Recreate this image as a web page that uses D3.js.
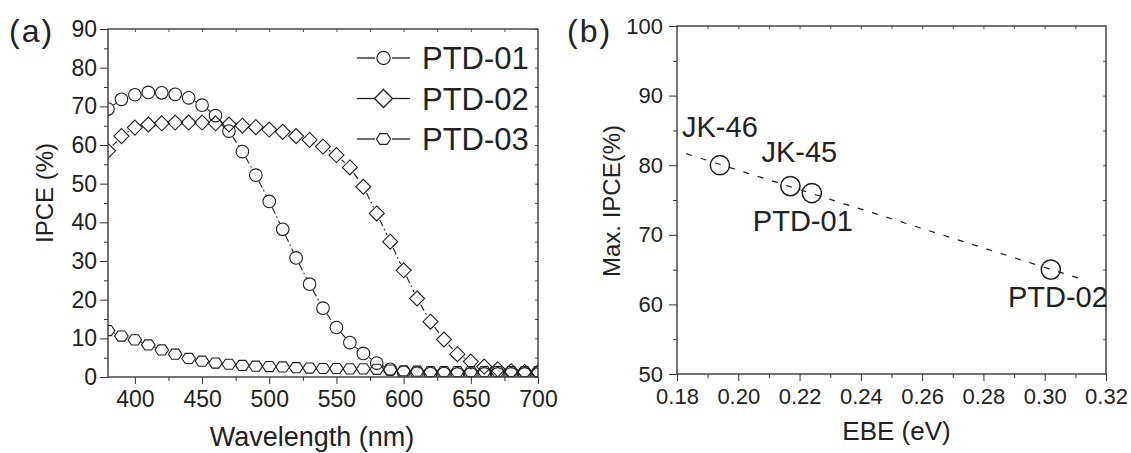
<!DOCTYPE html>
<html>
<head>
<meta charset="utf-8">
<script src="https://cdn.jsdelivr.net/npm/d3@7"></script>
<style>
  body { margin: 0; background: #fff; }
  text { font-family: "Liberation Sans", Arial, Helvetica, sans-serif; fill: #222; }
</style>
</head>
<body>
<div id="chart"></div>
<script>
// ---- data, panel (a) ----
var wavelengths = [380, 390, 400, 410, 420, 430, 440, 450, 460, 470, 480, 490, 500, 510, 520, 530, 540,
  550, 560, 570, 580, 590, 600, 610, 620, 630, 640, 650, 660, 670, 680, 690, 700];
var ptd01 = [69.3, 71.8, 73.0, 73.6, 73.5, 73.1, 72.2, 70.3, 67.6, 63.6, 58.3, 52.2, 45.4, 38.2, 30.8, 24.0, 17.8,
  12.8, 8.9, 6.1, 3.6, 2.0, 1.2, 1.0, 0.9, 0.9, 0.8, 0.8, 0.8, 0.8, 0.8, 0.8, 0.8];
var ptd02 = [58.5, 62.3, 64.5, 65.3, 65.6, 65.8, 65.8, 65.8, 65.6, 65.3, 65.0, 64.6, 64.0, 63.4, 62.3, 61.3, 59.6,
  57.4, 54.2, 49.2, 42.3, 35.0, 27.6, 20.3, 14.3, 9.7, 5.9, 4.0, 2.7, 2.0, 1.5, 1.3, 1.2];
var ptd03 = [12.0, 10.6, 9.6, 8.3, 7.0, 5.9, 4.8, 4.1, 3.6, 3.3, 3.0, 2.8, 2.7, 2.6, 2.4, 2.3, 2.2,
  2.2, 2.1, 2.1, 2.0, 1.8, 1.6, 1.5, 1.4, 1.4, 1.4, 1.4, 1.4, 1.4, 1.4, 1.4, 1.4];
var seriesNames = ["PTD-01", "PTD-02", "PTD-03"];

var xTicksA = [400, 450, 500, 550, 600, 650, 700];
var xMinorA = [425, 475, 525, 575, 625, 675];
var xTopA = [400, 425, 450, 475, 500, 525, 550, 575, 600, 625, 650, 675];
var yTicksA = [0, 10, 20, 30, 40, 50, 60, 70, 80, 90];
var yMinorA = [5, 15, 25, 35, 45, 55, 65, 75, 85];

// ---- data, panel (b) ----
var compounds = ["JK-46", "JK-45", "PTD-01", "PTD-02"];
var ebe = [0.194, 0.217, 0.224, 0.302];
var maxIpce = [80, 77, 76, 65];
var fitRange = [0.183, 0.313];

var xTicksB = [0.18, 0.20, 0.22, 0.24, 0.26, 0.28, 0.30, 0.32];
var xMinorB = [0.19, 0.21, 0.23, 0.25, 0.27, 0.29, 0.31];
var yTicksB = [50, 60, 70, 80, 90, 100];
var yMinorB = [55, 65, 75, 85, 95];

var ink = "#1e1e1e";

var svg = d3.select("#chart")
  .append("svg")
  .attr("width", 1131)
  .attr("height", 453);

svg.append("rect").attr("width", 1131).attr("height", 453).attr("fill", "#fff");

// draws the box, outward major/minor ticks on bottom+left, small inward ticks on top+right
function drawFrame(x, y, opts) {
  var x0 = x.range()[0], x1 = x.range()[1];
  var y0 = y.range()[0], y1 = y.range()[1];

  var bottom = svg.append("g")
    .attr("transform", `translate(0, ${y0})`)
    .call(d3.axisBottom(x).tickValues(opts.xTicks).tickSize(7).tickPadding(7).tickFormat(opts.xFormat));
  bottom.attr("font-size", opts.fontSize).attr("color", "#333");

  svg.append("g")
    .attr("transform", `translate(0, ${y0})`)
    .attr("color", "#333")
    .call(d3.axisBottom(x).tickValues(opts.xMinor).tickSize(4).tickFormat(""));

  var left = svg.append("g")
    .attr("transform", `translate(${x0}, 0)`)
    .call(d3.axisLeft(y).tickValues(opts.yTicks).tickSize(8).tickPadding(opts.yPad).tickFormat(d3.format("d")));
  left.attr("font-size", opts.fontSize).attr("color", "#333");

  svg.append("g")
    .attr("transform", `translate(${x0}, 0)`)
    .attr("color", "#333")
    .call(d3.axisLeft(y).tickValues(opts.yMinor).tickSize(4).tickFormat(""));

  svg.append("g")
    .attr("transform", `translate(0, ${y1})`)
    .attr("color", "#555")
    .call(d3.axisTop(x).tickValues(opts.xTop).tickSizeInner(-3).tickSizeOuter(0).tickFormat(""));

  svg.append("g")
    .attr("transform", `translate(${x1}, 0)`)
    .attr("color", "#555")
    .call(d3.axisRight(y).tickValues(opts.yRight).tickSizeInner(-3).tickSizeOuter(0).tickFormat(""));

  svg.selectAll(".domain").remove();
  svg.selectAll(".tick text").attr("fill", "#222");

  svg.append("rect")
    .attr("x", x0).attr("y", y1)
    .attr("width", x1 - x0).attr("height", y0 - y1)
    .attr("fill", "none")
    .attr("stroke", "#3a3a3a")
    .attr("stroke-width", 1.4);
}

// marker shapes
function markerPath(kind) {
  if (kind === "diamond") {
    var h = 7.5;
    return `M0,${-h}L${h},0L0,${h}L${-h},0Z`;
  }
  if (kind === "hexagon") {
    var R = 6.8, s = Math.sqrt(3) / 2 * R * 0.86;
    return `M${-R},0L${-R / 2},${-s}L${R / 2},${-s}L${R},0L${R / 2},${s}L${-R / 2},${s}Z`;
  }
  return d3.symbol().type(d3.symbolCircle).size(Math.PI * 6.3 * 6.3)();
}

// ================= panel (a) =================
var xA = d3.scaleLinear().domain([380, 700]).range([108, 538]);
var yA = d3.scaleLinear().domain([0, 90]).range([377, 29]);

svg.append("clipPath").attr("id", "clipA")
  .append("rect").attr("x", 108).attr("y", 29).attr("width", 430).attr("height", 348);

var plotA = svg.append("g").attr("clip-path", "url(#clipA)");

var seriesA = [
  { name: seriesNames[0], values: ptd01, marker: "circle", gap: 6.8 },
  { name: seriesNames[1], values: ptd02, marker: "diamond", gap: 7.0 },
  { name: seriesNames[2], values: ptd03, marker: "hexagon", gap: 6.6 }
];

seriesA.forEach(function(s) {
  var pts = wavelengths.map(function(w, i) { return [xA(w), yA(s.values[i])]; });
  // connecting segments, broken where they meet a marker
  for (var i = 0; i < pts.length - 1; i++) {
    var p = pts[i], q = pts[i + 1];
    var dx = q[0] - p[0], dy = q[1] - p[1];
    var d = Math.sqrt(dx * dx + dy * dy);
    if (d <= 2 * s.gap + 1) continue;
    var ux = dx / d, uy = dy / d;
    plotA.append("line")
      .attr("x1", p[0] + ux * s.gap).attr("y1", p[1] + uy * s.gap)
      .attr("x2", q[0] - ux * s.gap).attr("y2", q[1] - uy * s.gap)
      .attr("stroke", ink)
      .attr("stroke-width", 1.1)
      .attr("stroke-dasharray", "7,3,1.5,3");
  }
  plotA.selectAll(null)
    .data(pts)
    .enter()
    .append("path")
    .attr("d", markerPath(s.marker))
    .attr("transform", d => `translate(${d[0]}, ${d[1]})`)
    .attr("fill", "none")
    .attr("stroke", ink)
    .attr("stroke-width", 1.1);
});

drawFrame(xA, yA, {
  xTicks: xTicksA, xMinor: xMinorA, xTop: xTopA,
  yTicks: yTicksA, yMinor: yMinorA, yRight: yMinorA.concat(yTicksA),
  xFormat: d3.format("d"), fontSize: 23, yPad: 3
});

// legend
var legend = svg.append("g").attr("transform", "translate(357, 58)");
seriesA.forEach(function(s, i) {
  var row = legend.append("g").attr("transform", `translate(0, ${i * 40.5})`);
  row.append("line").attr("x1", 0).attr("x2", 18).attr("stroke", ink).attr("stroke-width", 1.3);
  row.append("line").attr("x1", 35).attr("x2", 53).attr("stroke", ink).attr("stroke-width", 1.3);
  row.append("path")
    .attr("d", markerPath(s.marker))
    .attr("transform", `translate(26.5, 0) scale(${s.marker === "diamond" ? 1.2 : 1.05})`)
    .attr("fill", "none").attr("stroke", ink).attr("stroke-width", 1.1);
  row.append("text")
    .attr("x", 65).attr("y", 11)
    .attr("font-size", 31)
    .text(s.name);
});

svg.append("text")
  .attr("transform", "translate(53, 193) rotate(-90)")
  .attr("text-anchor", "middle")
  .attr("font-size", 24)
  .text("IPCE (%)");

svg.append("text")
  .attr("x", (xA(380) + xA(700)) / 2 - 11)
  .attr("y", 446)
  .attr("text-anchor", "middle")
  .attr("font-size", 27)
  .text("Wavelength (nm)");

svg.append("text")
  .attr("x", 9).attr("y", 42)
  .attr("font-size", 32)
  .attr("letter-spacing", 2)
  .text("(a)");

// ================= panel (b) =================
var xB = d3.scaleLinear().domain([0.18, 0.32]).range([677, 1106]);
var yB = d3.scaleLinear().domain([50, 100]).range([374, 26]);

drawFrame(xB, yB, {
  xTicks: xTicksB, xMinor: xMinorB, xTop: xMinorB.concat(xTicksB.slice(1, -1)),
  yTicks: yTicksB, yMinor: yMinorB, yRight: yMinorB.concat(yTicksB.slice(1, -1)),
  xFormat: d3.format(".2f"), fontSize: 22, yPad: 6
});

// least-squares line through the four points
var mx = d3.mean(ebe), my = d3.mean(maxIpce);
var sxy = d3.sum(ebe, (e, i) => (e - mx) * (maxIpce[i] - my));
var sxx = d3.sum(ebe, e => (e - mx) * (e - mx));
var slope = sxy / sxx, icpt = my - slope * mx;

svg.append("path")
  .datum(fitRange)
  .attr("d", d3.line().x(d => xB(d)).y(d => yB(icpt + slope * d)))
  .attr("fill", "none")
  .attr("stroke", ink)
  .attr("stroke-width", 1.2)
  .attr("stroke-dasharray", "6,9");

svg.selectAll(null)
  .data(ebe)
  .enter()
  .append("circle")
  .attr("cx", d => xB(d))
  .attr("cy", (d, i) => yB(maxIpce[i]))
  .attr("r", 9.6)
  .attr("fill", "none")
  .attr("stroke", ink)
  .attr("stroke-width", 1.5);

// label offsets (pixels) relative to each point
var labelOffsets = [[0, -28], [9, -24], [-9, 38], [7, 37]];
svg.selectAll(null)
  .data(compounds)
  .enter()
  .append("text")
  .attr("x", (d, i) => xB(ebe[i]) + labelOffsets[i][0])
  .attr("y", (d, i) => yB(maxIpce[i]) + labelOffsets[i][1])
  .attr("text-anchor", "middle")
  .attr("font-size", 29)
  .text(d => d);

svg.append("text")
  .attr("transform", "translate(620, 201) rotate(-90)")
  .attr("text-anchor", "middle")
  .attr("font-size", 24)
  .text("Max. IPCE(%)");

svg.append("text")
  .attr("x", (xB(0.18) + xB(0.32)) / 2 + 5)
  .attr("y", 440)
  .attr("text-anchor", "middle")
  .attr("font-size", 26)
  .text("EBE (eV)");

svg.append("text")
  .attr("x", 567).attr("y", 42)
  .attr("font-size", 32)
  .attr("letter-spacing", 2)
  .text("(b)");
</script>
</body>
</html>
